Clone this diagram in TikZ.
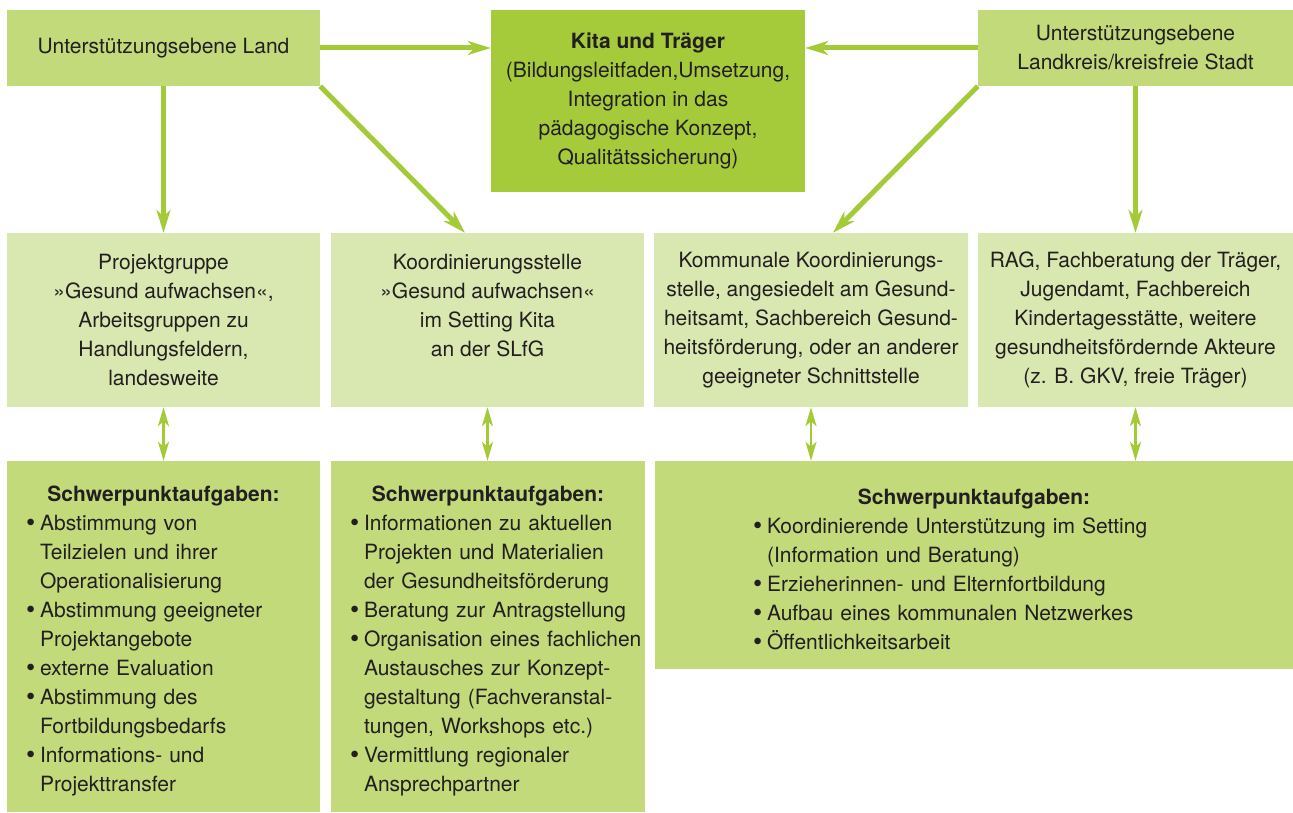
\documentclass[tikz,border=0pt]{standalone}
\usepackage{fontspec}
\setmainfont{TeX Gyre Heros}
\usetikzlibrary{arrows.meta}
\setlength{\parindent}{0pt}

\definecolor{levelgreen}{HTML}{C2DA79}
\definecolor{kitagreen}{HTML}{A5CB3B}
\definecolor{palegreen}{HTML}{D9E7B0}
\definecolor{arrowgreen}{HTML}{A3CB38}
\definecolor{inkgray}{HTML}{231F20}

\newcommand{\itm}[1]{\makebox[14pt][l]{\raisebox{-1pt}{\scalebox{1.25}{\textbullet}}}\mbox{#1}}
\newcommand{\cnt}[1]{\hspace*{14pt}\mbox{#1}}
\newcommand{\taskhead}{\rule{0pt}{24pt}\makebox[\linewidth]{\bfseries Schwerpunktaufgaben:}}

\tikzset{
  levelbox/.style={fill=levelgreen, inner sep=2pt, align=center},
  kitabox/.style={fill=kitagreen, inner sep=2pt, align=center},
  actorbox/.style={fill=palegreen, inner sep=2pt, align=center,
    minimum height=174pt},
  taskbox/.style={fill=levelgreen, inner xsep=19pt, inner ysep=2pt, align=left},
  flow/.style={arrowgreen, line width=5pt,
    -{Stealth[length=23pt, width=14pt, inset=7pt]}},
  both/.style={arrowgreen, line width=2.5pt,
    {Stealth[length=19pt, width=11pt, inset=5pt]}-{Stealth[length=19pt, width=11pt, inset=5pt]}}
}

\begin{document}
\begin{tikzpicture}[x=1pt, y=-1pt,
    every node/.style={text=inkgray, font=\fontsize{21}{29}\selectfont}]
    \useasboundingbox (0,0) rectangle (1293,813);

    % Top level
    \node[levelbox, minimum width=313pt, minimum height=76pt] (land) at (163.5,48)
        {Unterstützungsebene Land};
    \node[kitabox, minimum width=314pt, minimum height=182pt] (kita) at (648,101)
        {\textbf{Kita und Träger}\\(Bildungsleitfaden,Umsetzung,\\Integration in das\\pädagogische Konzept,\\Qualitätssicherung)};
    \node[levelbox, minimum width=315pt, minimum height=76pt] (kreis) at (1135.5,48)
        {Unterstützungsebene\\Landkreis/kreisfreie Stadt};

    % Actors
    \node[actorbox, minimum width=313pt] (projekt) at (163.5,320)
        {Projektgruppe\\»Gesund aufwachsen«,\\Arbeitsgruppen zu\\Handlungsfeldern,\\landesweite};
    \node[actorbox, minimum width=313pt] (koord) at (487.5,320)
        {Koordinierungsstelle\\»Gesund aufwachsen«\\im Setting Kita\\an der SLfG\\ \mbox{}};
    \node[actorbox, minimum width=314pt] (kommunal) at (811,320)
        {Kommunale Koordinierungs-\\stelle, angesiedelt am Gesund-\\heitsamt, Sachbereich Gesund-\\heitsförderung, oder an anderer\\geeigneter Schnittstelle};
    \node[actorbox, minimum width=315pt] (rag) at (1135.5,320)
        {RAG, Fachberatung der Träger,\\Jugendamt, Fachbereich\\Kindertagesstätte, weitere\\gesundheitsfördernde Akteure\\(z. B. GKV, freie Träger)};

    % Tasks
    \node[taskbox, text width=275pt, minimum height=351pt] (tasksA) at (163.5,636.5)
        {\taskhead\\
         \itm{Abstimmung von}\\
         \cnt{Teilzielen und ihrer}\\
         \cnt{Operationalisierung}\\
         \itm{Abstimmung geeigneter}\\
         \cnt{Projektangebote}\\
         \itm{externe Evaluation}\\
         \itm{Abstimmung des}\\
         \cnt{Fortbildungsbedarfs}\\
         \itm{Informations- und}\\
         \cnt{Projekttransfer}};
    \node[taskbox, text width=276pt, minimum height=351pt] (tasksB) at (488,636.5)
        {\taskhead\\
         \itm{Informationen zu aktuellen}\\
         \cnt{Projekten und Materialien}\\
         \cnt{der Gesundheitsförderung}\\
         \itm{Beratung zur Antragstellung}\\
         \itm{Organisation eines fachlichen}\\
         \cnt{Austausches zur Konzept-}\\
         \cnt{gestaltung (Fachveranstal-}\\
         \cnt{tungen, Workshops etc.)}\\
         \itm{Vermittlung regionaler}\\
         \cnt{Ansprechpartner}};
    \node[taskbox, inner xsep=98pt, text width=442pt, minimum height=208pt] (tasksC) at (974,565)
        {\taskhead\\
         \itm{Koordinierende Unterstützung im Setting}\\
         \cnt{(Information und Beratung)}\\
         \itm{Erzieherinnen- und Elternfortbildung}\\
         \itm{Aufbau eines kommunalen Netzwerkes}\\
         \itm{Öffentlichkeitsarbeit}};

    % Arrows
    \draw[flow] (land.east) -- (land.east -| kita.west);
    \draw[flow] (kreis.west) -- (kreis.west -| kita.east);
    \draw[flow] (land.south) -- (projekt.north);
    \draw[flow] (land.south east) -- ([xshift=-22.5pt]koord.north);
    \draw[flow] (kreis.south west) -- ([xshift=22pt]kommunal.north);
    \draw[flow] (kreis.south) -- (rag.north);

    \draw[both] (projekt.south) -- (tasksA.north);
    \draw[both] (koord.south) -- (koord.south |- tasksB.north);
    \draw[both] (kommunal.south) -- (kommunal.south |- tasksC.north);
    \draw[both] (rag.south) -- (rag.south |- tasksC.north);
\end{tikzpicture}
\end{document}
